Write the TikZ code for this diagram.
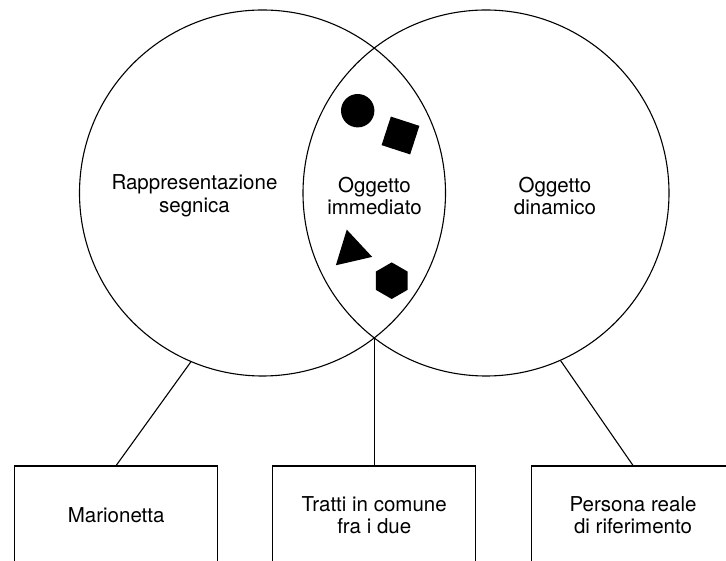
\documentclass[tikz,border=0pt]{standalone}
\usepackage{fontspec}
\setmainfont{TeX Gyre Heros}
\usetikzlibrary{shapes.geometric}
\begin{document}
\begin{tikzpicture}
[x=1pt,y=1pt,line width=1.1pt,
  venn/.style={shape=circle,draw,inner sep=0pt,minimum size=366pt},%
  label/.style={align=center,font=\fontsize{20.5}{22.5}\selectfont},%
  esempio/.style={shape=rectangle,draw,minimum width=203pt,minimum height=98pt,
    align=center,font=\fontsize{20.5}{22.5}\selectfont},%
  segno/.style={fill=black,draw=none,inner sep=0pt}]
\useasboundingbox (0,0) rectangle (726,-561);
%% cerchi
\node (sinistro) at (262.5,-193) [venn] {};
\node (destro) at (486,-193) [venn] {};
\coordinate (basso) at (374.25,-338);
%% testi nei cerchi
\node (rappr) at (194.5,-196) [label] {Rappresentazione\\segnica};
\node (immediato) at (374.5,-196) [label] {Oggetto\\immediato};
\node (dinamico) at (555,-196) [label] {Oggetto\\dinamico};
%% forme
\node (tondo) at (357.7,-110.7) [segno,circle,minimum size=33.4pt] {};
\node (quadrato) at (400.5,-135.5) [segno,rectangle,minimum size=30pt,rotate=-18] {};
\node (triangolo) at (351.6,-250.6) [segno,regular polygon,regular polygon sides=3,
  minimum size=43pt,rotate=13] {};
\node (esagono) at (391.7,-280.7) [segno,regular polygon,regular polygon sides=6,
  minimum size=36.6pt,rotate=30] {};
%% riquadri
\node (marionetta) at (116.2,-515) [esempio] {Marionetta};
\node (tratti) at (374.25,-515) [esempio] {Tratti in comune\\fra i due};
\node (persona) at (633,-515) [esempio] {Persona reale\\di riferimento};
%% collegamenti
\draw (sinistro.-113.5) -- (marionetta.north);
\draw (basso) -- (tratti.north);
\draw (destro.-66) -- (persona.north);
\end{tikzpicture}
\end{document}
